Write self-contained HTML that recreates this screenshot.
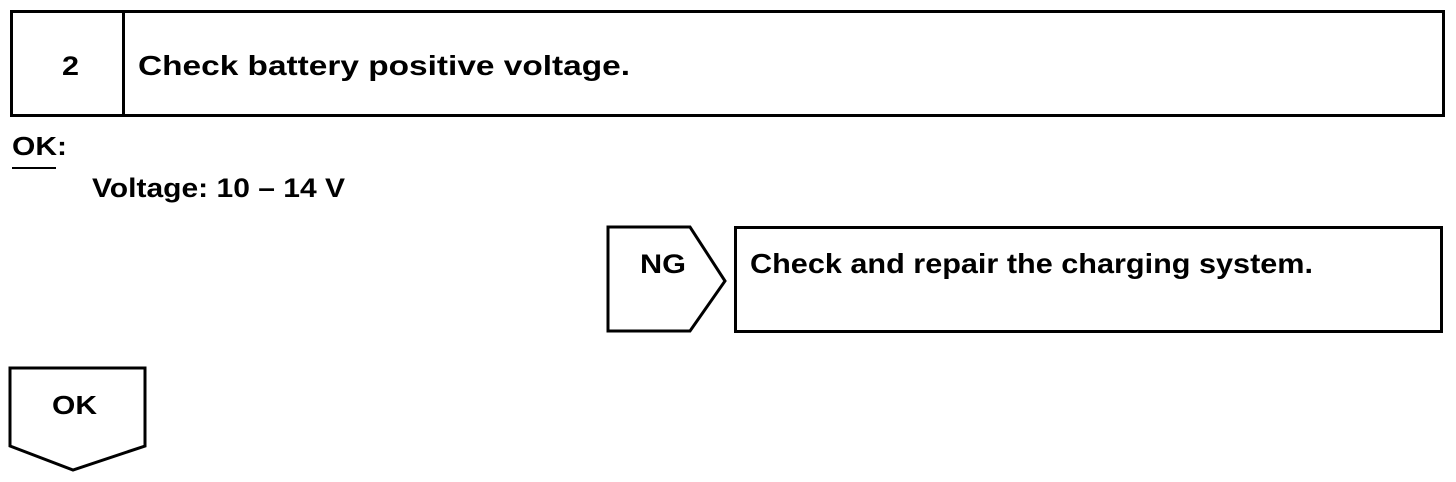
<!DOCTYPE html>
<html><head><meta charset="utf-8"><style>
html,body{margin:0;padding:0;background:#fff;}
svg{display:block;}
text{font-family:"Liberation Sans",Arial,sans-serif;font-weight:bold;fill:#000;}
</style></head><body>
<svg width="1456" height="482" viewBox="0 0 1456 482" xmlns="http://www.w3.org/2000/svg">
<g fill="none" stroke="#000" stroke-width="3">
<rect x="11.5" y="11.5" width="1432" height="104"/>
<line x1="123.5" y1="11" x2="123.5" y2="116"/>
<polygon points="608,227 690,227 725,281 690,331 608,331"/>
<rect x="735.5" y="227.5" width="706" height="104"/>
<polygon points="10,368 145,368 145,446 73,470 10,446"/>
<line x1="12" y1="168" x2="56" y2="168" stroke-width="2"/>
</g>
<text x="62" y="75" font-size="27" textLength="17" lengthAdjust="spacingAndGlyphs">2</text>
<text x="138" y="75" font-size="28" textLength="492" lengthAdjust="spacingAndGlyphs">Check battery positive voltage.</text>
<text x="12" y="155" font-size="26" textLength="55" lengthAdjust="spacingAndGlyphs">OK:</text>
<text x="92" y="197" font-size="27" textLength="253" lengthAdjust="spacingAndGlyphs">Voltage: 10 – 14 V</text>
<text x="640" y="273" font-size="27" textLength="46" lengthAdjust="spacingAndGlyphs">NG</text>
<text x="750" y="273" font-size="28" textLength="563" lengthAdjust="spacingAndGlyphs">Check and repair the charging system.</text>
<text x="52" y="414" font-size="26" textLength="45" lengthAdjust="spacingAndGlyphs">OK</text>
</svg>
</body></html>
